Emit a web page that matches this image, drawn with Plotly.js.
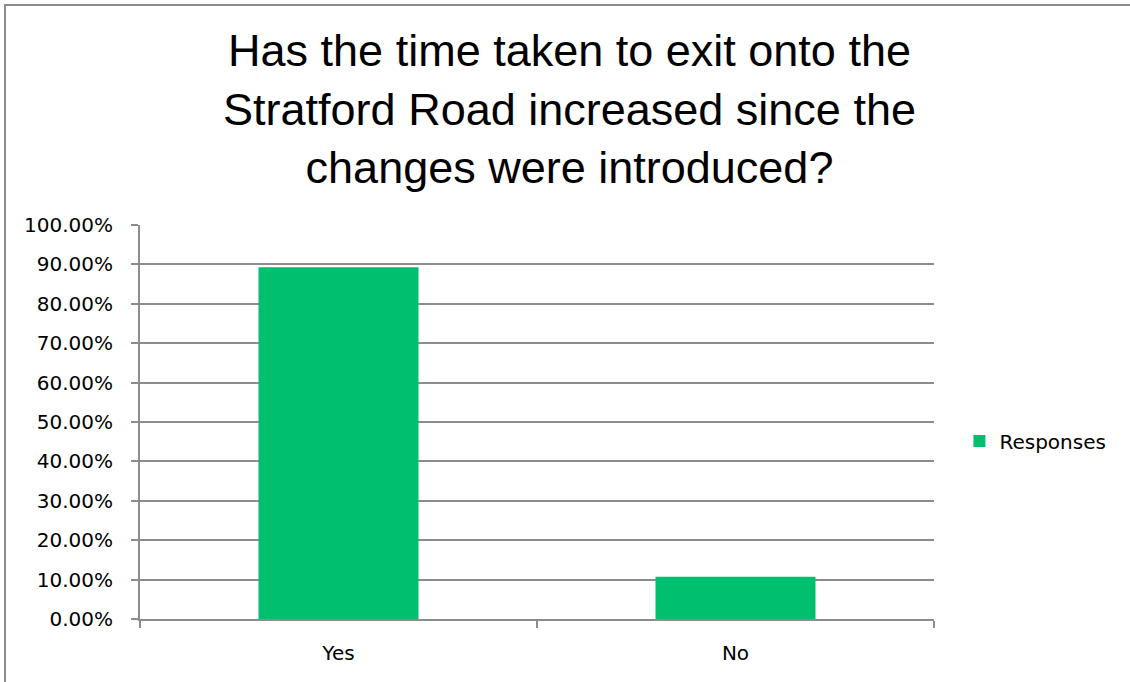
<!DOCTYPE html>
<html>
<head>
<meta charset="utf-8">
<script src="https://cdn.plot.ly/plotly-3.0.1.min.js"></script>
<style>
  html, body { margin: 0; padding: 0; background: #fff; }
  #wrap { position: relative; width: 1130px; height: 682px; }
  #chart { width: 1130px; height: 682px; }
  #frame { position: absolute; left: 4px; top: 4px; right: 0; bottom: 0;
           border-top: 2px solid #8c8c8c; border-left: 2px solid #8c8c8c;
           pointer-events: none; }
</style>
</head>
<body>
<div id="wrap">
  <div id="chart"></div>
  <div id="frame"></div>
</div>
<script>
const categories = ["Yes", "No"];
const responses = [0.8929, 0.1071];
const seriesName = "Responses";
const titleText = "Has the time taken to exit onto the<br>Stratford Road increased since the<br>changes were introduced?";

const gridColor = "#8c8c8c";
const tickFont = { family: "DejaVu Sans, Liberation Sans, sans-serif", size: 20, color: "#000" };

const data = [{
  type: "bar",
  x: categories,
  y: responses,
  name: seriesName,
  marker: { color: "#00BF6F" },
  showlegend: true,
  hoverinfo: "none"
}];

const layout = {
  width: 1130,
  height: 682,
  paper_bgcolor: "#fff",
  plot_bgcolor: "#fff",
  margin: { l: 140, r: 196, t: 225, b: 63 },
  bargap: 0.597,
  title: {
    text: titleText,
    font: { family: "Liberation Sans, Arial, sans-serif", size: 45, color: "#000" },
    x: 0.504, xanchor: "center",
    xref: "container", yref: "container",
    y: 1 - 66 / 682, yanchor: "top"
  },
  xaxis: {
    type: "category",
    showline: true, linecolor: gridColor, linewidth: 2,
    ticks: "outside", tickson: "boundaries", ticklen: 7, tickwidth: 2, tickcolor: gridColor,
    showgrid: false,
    tickfont: tickFont,
    ticklabelstandoff: 15,
    fixedrange: true
  },
  yaxis: {
    range: [0, 1],
    dtick: 0.1,
    tick0: 0,
    tickformat: ".2%",
    showline: true, linecolor: gridColor, linewidth: 2,
    ticks: "outside", ticklen: 7, tickwidth: 2, tickcolor: gridColor,
    showgrid: true, gridcolor: gridColor, gridwidth: 2,
    zeroline: false,
    tickfont: tickFont,
    ticklabelstandoff: 14,
    fixedrange: true
  },
  legend: {
    x: 1.032, xanchor: "left",
    y: 0.452, yanchor: "middle",
    font: tickFont,
    bgcolor: "rgba(0,0,0,0)"
  }
};

Plotly.newPlot("chart", data, layout, { displayModeBar: false, staticPlot: true });
</script>
</body>
</html>
